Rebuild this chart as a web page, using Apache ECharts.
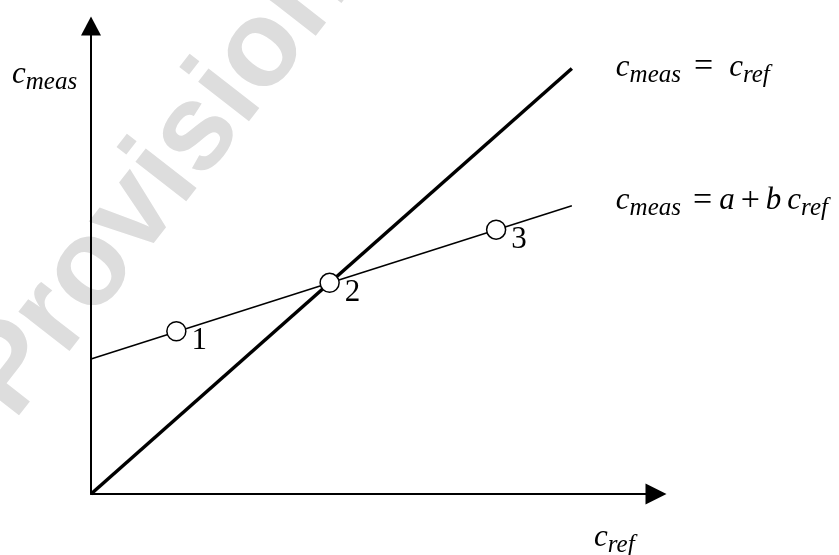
<!DOCTYPE html>
<html>
<head>
<meta charset="utf-8">
<script src="https://cdn.jsdelivr.net/npm/echarts@6/dist/echarts.min.js"></script>
<style>
  html, body { margin: 0; padding: 0; background: #fff; }
  #chart { width: 839px; height: 555px; }
</style>
</head>
<body>
<div id="chart"></div>
<script>
// Axis ranges (c_ref horizontally, c_meas vertically)
const xRange = [0, 9.4];
const yRange = [0, 8.8];

// Identity line c_meas = c_ref
const identityLine = [[0, 0], [8, 8]];
// Calibration line c_meas = a + b c_ref
const calibrationLine = [[0, 2.54], [8, 5.42]];
// Measured calibration points and their numbers
const pointValues = [[1.42, 3.06], [3.97, 3.97], [6.74, 4.97]];
const pointLabels = ['1', '2', '3'];

const serif = 'Liberation Serif';

// Rich-text styles for the formulas: italic symbols, smaller lowered subscripts,
// upright operators with explicit spacing
const mathRich = {
  c: { fontFamily: serif, fontStyle: 'italic', fontSize: 31, lineHeight: 40, color: '#000' },
  s: { fontFamily: serif, fontStyle: 'italic', fontSize: 25, lineHeight: 19, verticalAlign: 'bottom', color: '#000' },
  v: { fontFamily: serif, fontStyle: 'italic', fontSize: 31, lineHeight: 40, color: '#000' },
  eq: { fontFamily: serif, fontSize: 34, lineHeight: 40, padding: [0, 16, 0, 13], color: '#000' },
  eq2: { fontFamily: serif, fontSize: 34, lineHeight: 40, padding: [0, 7, 0, 12], color: '#000' },
  plus: { fontFamily: serif, fontSize: 34, lineHeight: 40, padding: [0, 6, 0, 6], color: '#000' },
  gap: { fontFamily: serif, fontSize: 31, lineHeight: 40, width: 6, color: '#000' }
};

const chart = echarts.init(document.getElementById('chart'), null, { renderer: 'canvas' });

const hiddenAxisParts = {
  axisTick: { show: false },
  axisLabel: { show: false },
  splitLine: { show: false }
};

chart.setOption({
  animation: false,
  backgroundColor: '#fff',
  grid: { left: 91, top: 26, width: 565, height: 468, containLabel: false },
  xAxis: Object.assign({
    type: 'value',
    min: xRange[0],
    max: xRange[1],
    axisLine: {
      show: true,
      symbol: ['none', 'triangle'],
      symbolSize: [21, 21],
      lineStyle: { color: '#000', width: 2 }
    }
  }, hiddenAxisParts),
  yAxis: Object.assign({
    type: 'value',
    min: yRange[0],
    max: yRange[1],
    axisLine: {
      show: true,
      symbol: ['none', 'triangle'],
      symbolSize: [20, 19],
      lineStyle: { color: '#000', width: 2 }
    }
  }, hiddenAxisParts),
  graphic: [
    {
      // "Provisional" watermark behind the drawing
      type: 'text',
      z: 0,
      x: 190,
      y: 142,
      rotation: 52 * Math.PI / 180,
      style: {
        text: 'Provisional',
        font: "bold 122px 'Liberation Sans', Arial, sans-serif",
        fill: '#dddddd',
        align: 'center',
        verticalAlign: 'middle'
      }
    },
    {
      type: 'text',
      z: 10,
      style: {
        x: 12,
        y: 75,
        text: '{c|c}{s|meas}',
        rich: mathRich,
        align: 'left',
        verticalAlign: 'middle'
      }
    },
    {
      type: 'text',
      z: 10,
      style: {
        x: 594,
        y: 538,
        text: '{c|c}{s|ref}',
        rich: mathRich,
        align: 'left',
        verticalAlign: 'middle'
      }
    }
  ],
  series: [
    {
      name: 'c_meas = c_ref',
      type: 'line',
      data: identityLine,
      symbol: 'none',
      z: 3,
      lineStyle: { color: '#000', width: 3.5 },
      endLabel: {
        show: true,
        distance: 44,
        offset: [0, -1],
        formatter: '{c|c}{s|meas}{eq|=}{c|c}{s|ref}',
        rich: mathRich
      }
    },
    {
      name: 'c_meas = a + b c_ref',
      type: 'line',
      data: calibrationLine,
      symbol: 'none',
      z: 3,
      lineStyle: { color: '#000', width: 1.5 },
      endLabel: {
        show: true,
        distance: 44,
        offset: [0, -5],
        formatter: '{c|c}{s|meas}{eq2|=}{v|a}{plus|+}{v|b}{gap|}{c|c}{s|ref}',
        rich: mathRich
      }
    },
    {
      name: 'points',
      type: 'scatter',
      data: pointValues,
      z: 5,
      symbol: 'circle',
      symbolSize: 19,
      itemStyle: { color: '#fff', borderColor: '#000', borderWidth: 1.5, opacity: 1 },
      label: {
        show: true,
        position: 'right',
        distance: 5,
        offset: [0, 10],
        formatter: (p) => pointLabels[p.dataIndex],
        fontFamily: serif,
        fontSize: 31,
        color: '#000'
      }
    }
  ]
});
</script>
</body>
</html>
